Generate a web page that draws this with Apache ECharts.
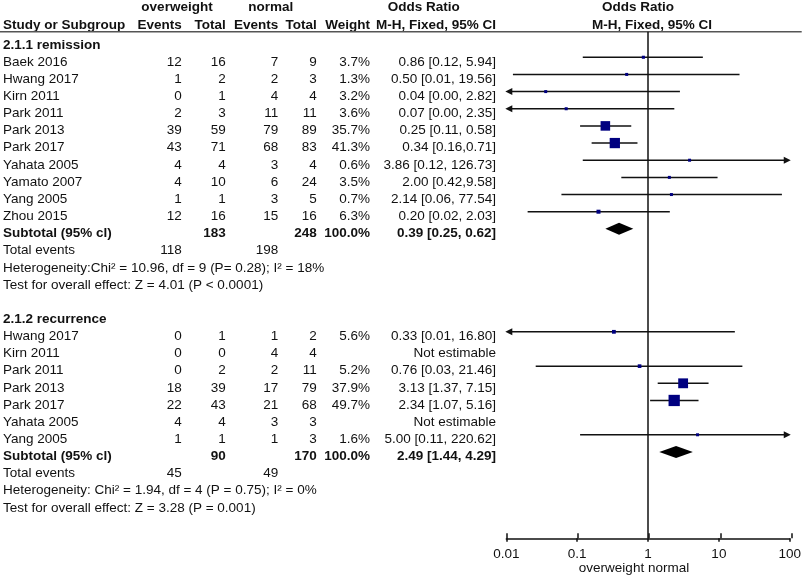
<!DOCTYPE html>
<html>
<head>
<meta charset="utf-8">
<script src="https://cdn.jsdelivr.net/npm/echarts@6/dist/echarts.min.js"></script>
<style>html,body{margin:0;padding:0;background:#fff}#chart{width:804px;height:576px}</style>
</head>
<body>
<div id="chart"></div>
<script>
// ---------- DATA ----------
const studies1 = ['Baek 2016','Hwang 2017','Kirn 2011','Park 2011','Park 2013','Park 2017','Yahata 2005','Yamato 2007','Yang 2005','Zhou 2015'];
const owEvents1 = [12, 1, 0, 2, 39, 43, 4, 4, 1, 12];
const owTotal1  = [16, 2, 1, 3, 59, 71, 4, 10, 1, 16];
const nEvents1  = [7, 2, 4, 11, 79, 68, 3, 6, 3, 15];
const nTotal1   = [9, 3, 4, 11, 89, 83, 4, 24, 5, 16];
const weight1   = [3.7, 1.3, 3.2, 3.6, 35.7, 41.3, 0.6, 3.5, 0.7, 6.3];
const orText1   = ['0.86 [0.12, 5.94]','0.50 [0.01, 19.56]','0.04 [0.00, 2.82]','0.07 [0.00, 2.35]','0.25 [0.11, 0.58]','0.34 [0.16,0.71]','3.86 [0.12, 126.73]','2.00 [0.42,9.58]','2.14 [0.06, 77.54]','0.20 [0.02, 2.03]'];
const or1 = [0.86, 0.50, 0.036, 0.07, 0.25, 0.34, 3.86, 2.00, 2.14, 0.20];
const lo1 = [0.12, 0.0124, 0.001, 0.001, 0.11, 0.16, 0.12, 0.42, 0.06, 0.02];
const hi1 = [5.94, 19.56, 2.82, 2.35, 0.58, 0.71, 126.73, 9.58, 77.54, 2.03];
const sub1 = {owTotal: '183', nTotal: '248', weight: '100.0%', text: '0.39 [0.25, 0.62]', or: 0.39, lo: 0.25, hi: 0.62, owEv: '118', nEv: '198'};
const het1 = 'Heterogeneity:Chi\u00B2 = 10.96, df = 9 (P= 0.28); I\u00B2 = 18%';
const test1 = 'Test for overall effect: Z = 4.01 (P < 0.0001)';

const studies2 = ['Hwang 2017','Kirn 2011','Park 2011','Park 2013','Park 2017','Yahata 2005','Yang 2005'];
const owEvents2 = [0, 0, 0, 18, 22, 4, 1];
const owTotal2  = [1, 0, 2, 39, 43, 4, 1];
const nEvents2  = [1, 4, 2, 17, 21, 3, 1];
const nTotal2   = [2, 4, 11, 79, 68, 3, 3];
const weight2   = [5.6, null, 5.2, 37.9, 49.7, null, 1.6];
const orText2   = ['0.33 [0.01, 16.80]','Not estimable','0.76 [0.03, 21.46]','3.13 [1.37, 7.15]','2.34 [1.07, 5.16]','Not estimable','5.00 [0.11, 220.62]'];
const or2 = [0.33, null, 0.76, 3.13, 2.34, null, 5.00];
const lo2 = [0.001, null, 0.026, 1.37, 1.07, null, 0.11];
const hi2 = [16.80, null, 21.46, 7.15, 5.16, null, 220.62];
const sub2 = {owTotal: '90', nTotal: '170', weight: '100.0%', text: '2.49 [1.44, 4.29]', or: 2.49, lo: 1.44, hi: 4.29, owEv: '45', nEv: '49'};
const het2 = 'Heterogeneity: Chi\u00B2 = 1.94, df = 4 (P = 0.75); I\u00B2 = 0%';
const test2 = 'Test for overall effect: Z = 3.28 (P = 0.001)';

const axisTicks = [0.01, 0.1, 1, 10, 100];

// ---------- LAYOUT ----------
const FONT_FAMILY = '"Liberation Sans", Arial, Helvetica, sans-serif';
const FS = 13.5;
const TXT_ROW0 = 44.85, TXT_ROWH = 17.15;   // table text rows
const PLT_ROW0 = 40.1, PLT_ROWH = 17.16;    // plot rows
const GRID_TOP = 31.7, AXIS_Y = 538.3;
const PLOT_L = 506.3, PLOT_R = 791.7;
const X_MIN = 0.01, X_MAX = 100;
const colX = {study: 3, owEv: 181.7, owTot: 225.7, nEv: 278.3, nTot: 316.7, weight: 370, orTxt: 496};
const rowY = i => TXT_ROW0 + i * TXT_ROWH;

const graphics = [];
function txt(s, x, i, align, bold, yOverride) {
  graphics.push({
    type: 'text', x: x, y: yOverride != null ? yOverride : rowY(i), silent: true,
    style: {
      text: String(s), fill: '#111',
      font: (bold ? 'bold ' : '') + FS + 'px ' + FONT_FAMILY,
      align: align, verticalAlign: 'middle',
      textAlign: align, textVerticalAlign: 'middle'
    }
  });
}

// headers
txt('overweight', 177, 0, 'center', true, 7.7);
txt('normal', 270.7, 0, 'center', true, 7.7);
txt('Odds Ratio', 423.7, 0, 'center', true, 7.7);
txt('Odds Ratio', 638, 0, 'center', true, 7.7);
txt('Study or Subgroup', colX.study, 0, 'left', true, 25.3);
txt('Events', colX.owEv, 0, 'right', true, 25.3);
txt('Total', colX.owTot, 0, 'right', true, 25.3);
txt('Events', colX.nEv, 0, 'right', true, 25.3);
txt('Total', colX.nTot, 0, 'right', true, 25.3);
txt('Weight', colX.weight, 0, 'right', true, 25.3);
txt('M-H, Fixed, 95% CI', colX.orTxt, 0, 'right', true, 25.3);
txt('M-H, Fixed, 95% CI', 652, 0, 'center', true, 25.3);
graphics.push({type: 'line', silent: true, shape: {x1: 0, y1: GRID_TOP, x2: 801.7, y2: GRID_TOP}, style: {stroke: '#555', lineWidth: 1.5}});

const studyData = [];
const subData = [];

function group(startRow, title, studies, owEv, owTot, nEv, nTot, w, orTxt, orV, loV, hiV, sub, het, test) {
  txt(title, colX.study, startRow, 'left', true);
  studies.forEach((s, k) => {
    const r = startRow + 1 + k;
    txt(s, colX.study, r, 'left', false);
    txt(owEv[k], colX.owEv, r, 'right', false);
    txt(owTot[k], colX.owTot, r, 'right', false);
    txt(nEv[k], colX.nEv, r, 'right', false);
    txt(nTot[k], colX.nTot, r, 'right', false);
    if (w[k] != null) txt(w[k].toFixed(1) + '%', colX.weight, r, 'right', false);
    txt(orTxt[k], colX.orTxt, r, 'right', false);
    if (orV[k] != null) studyData.push([orV[k], r, loV[k], hiV[k], w[k]]);
  });
  const rs = startRow + 1 + studies.length;
  txt('Subtotal (95% cl)', colX.study, rs, 'left', true);
  txt(sub.owTotal, colX.owTot, rs, 'right', true);
  txt(sub.nTotal, colX.nTot, rs, 'right', true);
  txt(sub.weight, colX.weight, rs, 'right', true);
  txt(sub.text, colX.orTxt, rs, 'right', true);
  subData.push([sub.or, rs, sub.lo, sub.hi]);
  txt('Total events', colX.study, rs + 1, 'left', false);
  txt(sub.owEv, colX.owEv, rs + 1, 'right', false);
  txt(sub.nEv, colX.nEv, rs + 1, 'right', false);
  txt(het, colX.study, rs + 2, 'left', false);
  txt(test, colX.study, rs + 3, 'left', false);
}
group(0, '2.1.1 remission', studies1, owEvents1, owTotal1, nEvents1, nTotal1, weight1, orText1, or1, lo1, hi1, sub1, het1, test1);
group(16, '2.1.2 recurrence', studies2, owEvents2, owTotal2, nEvents2, nTotal2, weight2, orText2, or2, lo2, hi2, sub2, het2, test2);

txt('overweight normal', 634, 0, 'center', false, 568);

const Y_MIN = (GRID_TOP - PLT_ROW0) / PLT_ROWH;
const Y_MAX = (AXIS_Y - PLT_ROW0) / PLT_ROWH;

const chart = echarts.init(document.getElementById('chart'), null, {renderer: 'canvas'});
const gridRect = {left: PLOT_L, right: 804 - PLOT_R, top: GRID_TOP, bottom: 576 - AXIS_Y, containLabel: false};
const logAxisBase = {type: 'log', logBase: 10, min: X_MIN, max: X_MAX, splitLine: {show: false}, minorTick: {show: false}, position: 'bottom'};
chart.setOption({
  animation: false,
  backgroundColor: '#fff',
  grid: [Object.assign({}, gridRect), Object.assign({}, gridRect)],
  xAxis: [
    Object.assign({}, logAxisBase, {
      gridIndex: 0,
      axisLine: {show: true, onZero: false, lineStyle: {color: '#111', width: 1.5}},
      axisTick: {show: true, inside: false, length: 3.5, lineStyle: {color: '#111', width: 1.5}},
      axisLabel: {show: true, color: '#111', fontSize: FS, fontFamily: FONT_FAMILY, margin: 9,
        formatter: v => { const t = axisTicks.find(a => Math.abs(Math.log10(a) - Math.log10(v)) < 1e-6); return t != null ? String(t) : ''; }}
    }),
    Object.assign({}, logAxisBase, {
      gridIndex: 1,
      axisLine: {show: false, onZero: false},
      axisTick: {show: true, inside: true, length: 5, lineStyle: {color: '#111', width: 1.5}},
      axisLabel: {show: false}
    })
  ],
  yAxis: [
    {type: 'value', gridIndex: 0, min: Y_MIN, max: Y_MAX, inverse: true, show: false},
    {type: 'value', gridIndex: 1, min: 0, max: 1, show: false}
  ],
  series: [
    {
      type: 'custom', xAxisIndex: 0, yAxisIndex: 0, silent: true,
      encode: {x: 0, y: 1},
      data: studyData,
      renderItem: (params, api) => {
        const or = api.value(0), row = api.value(1), lo = api.value(2), hi = api.value(3), w = api.value(4);
        const y = api.coord([1, row])[1];
        const xl = api.coord([Math.max(lo, X_MIN), row])[0];
        const xr = api.coord([Math.min(hi, X_MAX), row])[0];
        const cx = api.coord([or, row])[0];
        const s = Math.max(3, 1.6 * Math.sqrt(w));
        const children = [];
        children.push({type: 'line', shape: {x1: xl + (lo < X_MIN ? 4 : 0), y1: y, x2: xr - (hi > X_MAX ? 4 : 0), y2: y}, style: {stroke: '#111', lineWidth: 1.5}});
        if (lo < X_MIN) children.push({type: 'polygon', shape: {points: [[xl - 1, y], [xl + 6, y - 3.5], [xl + 6, y + 3.5]]}, style: {fill: '#111'}});
        if (hi > X_MAX) children.push({type: 'polygon', shape: {points: [[xr + 1, y], [xr - 6, y - 3.5], [xr - 6, y + 3.5]]}, style: {fill: '#111'}});
        children.push({type: 'rect', shape: {x: cx - s / 2, y: y - s / 2, width: s, height: s}, style: {fill: '#000080'}});
        return {type: 'group', children};
      },
      markLine: {
        silent: true, symbol: 'none', label: {show: false}, animation: false,
        lineStyle: {color: '#111', width: 1.5, type: 'solid'},
        data: [{xAxis: 1}]
      }
    },
    {
      type: 'custom', xAxisIndex: 0, yAxisIndex: 0, silent: true,
      encode: {x: 0, y: 1},
      data: subData,
      renderItem: (params, api) => {
        const or = api.value(0), row = api.value(1), lo = api.value(2), hi = api.value(3);
        const y = api.coord([1, row])[1];
        const xl = api.coord([lo, row])[0];
        const xr = api.coord([hi, row])[0];
        const cx = api.coord([or, row])[0];
        return {type: 'polygon', shape: {points: [[xl, y], [cx, y - 6], [xr, y], [cx, y + 6]]}, style: {fill: '#000'}};
      }
    }
  ],
  graphic: {elements: graphics}
});
</script>
</body>
</html>
